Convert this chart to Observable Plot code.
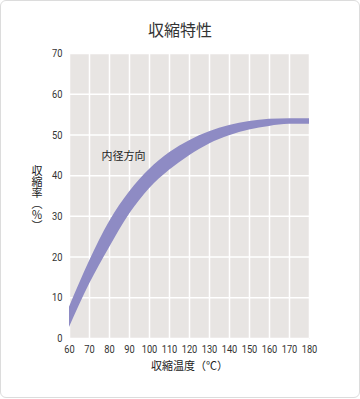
<!DOCTYPE html>
<html>
<head>
<meta charset="utf-8">
<script src="https://cdn.jsdelivr.net/npm/d3@7"></script>
<script src="https://cdn.jsdelivr.net/npm/@observablehq/plot@0.6"></script>
<style>
  body { margin: 0; background: #fff; }
  #wrap { position: relative; width: 360px; height: 399px; }
  #border { position: absolute; left: 0; top: 0; width: 358px; height: 396px; border: 1px solid #dcdcdc; border-radius: 6px; }
  #title { position: absolute; left: 0; top: 18px; width: 360px; text-align: center; font: 16px/22px "Noto Sans CJK JP", sans-serif; color: #333; }
  #ylabel { position: absolute; left: 31px; top: 165px; writing-mode: vertical-rl; text-orientation: mixed; font: 11px/12px "Noto Sans CJK JP", sans-serif; color: #222; }
  #chart { position: absolute; left: 0; top: 40px; }
</style>
</head>
<body>
<div id="wrap">
  <div id="border"></div>
  <div id="chart"></div>
  <div id="title"></div>
  <div id="ylabel"></div>
</div>
<script>
const titleText = "収縮特性";
const temps = [60, 70, 80, 90, 100, 110, 120, 130, 140, 150, 160, 170, 180];
const upper = [7.7, 19.0, 28.7, 36.0, 41.5, 45.6, 48.6, 50.8, 52.3, 53.3, 53.85, 54.0, 54.0];
const lower = [2.7, 13.3, 22.3, 30.5, 36.8, 41.3, 44.9, 47.8, 49.8, 51.2, 52.1, 52.6, 52.6];
const xTicks = [60, 70, 80, 90, 100, 110, 120, 130, 140, 150, 160, 170, 180];
const yTicks = [0, 10, 20, 30, 40, 50, 60, 70];
const seriesLabel = "内径方向";
const xLabel = "収縮温度（℃）";
const yLabel = "収縮率（％）";

document.getElementById("title").textContent = titleText;
document.getElementById("ylabel").textContent = yLabel;

const table = temps.map((t, i) => ({t, lo: lower[i], hi: upper[i]}));
const cjk = "'Noto Sans CJK JP', sans-serif";

const chart = Plot.plot({
  width: 360,
  height: 359,
  marginTop: 13,
  marginBottom: 61,
  marginLeft: 69,
  marginRight: 51,
  style: {fontFamily: "Roboto, 'Liberation Sans', sans-serif", fontSize: "10px", color: "#333", background: "transparent"},
  x: {domain: [60, 180]},
  y: {domain: [0, 70]},
  marks: [
    Plot.frame({fill: "#e8e5e3", stroke: null}),
    Plot.gridX(xTicks, {stroke: "#fff", strokeOpacity: 1, strokeWidth: 1.5}),
    Plot.gridY(yTicks, {stroke: "#fff", strokeOpacity: 1, strokeWidth: 1.5}),
    Plot.areaY(table, {x: "t", y1: "lo", y2: "hi", fill: "#8e8bc4", curve: "monotone-x"}),
    Plot.text([seriesLabel], {x: 87, y: 44.7, text: d => d, fontSize: 11, fontFamily: cjk, fill: "#222"}),
    Plot.axisX(xTicks, {tickSize: 0, tickPadding: 6, label: null}),
    Plot.axisY(yTicks, {tickSize: 0, tickPadding: 7, label: null}),
    Plot.text([xLabel], {frameAnchor: "bottom", dy: 31, text: d => d, fontSize: 11, fontFamily: cjk, fill: "#222"})
  ]
});
// condense tick label glyphs horizontally and stretch vertically (the reference uses a narrow face)
chart.querySelectorAll('[aria-label="x-axis tick label"] text, [aria-label="y-axis tick label"] text').forEach(t => {
  const tr = t.getAttribute("transform") || "";
  t.setAttribute("transform", tr + " scale(0.93,1.15)");
});
document.getElementById("chart").appendChild(chart);
</script>
</body>
</html>
